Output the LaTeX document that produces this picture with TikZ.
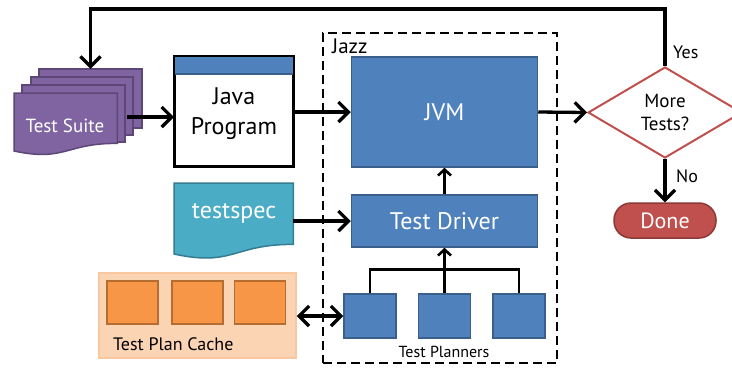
\documentclass[tikz,border=0pt]{standalone}
\usepackage{fontspec}
\setmainfont{PT Sans}
\usetikzlibrary{arrows.meta,shapes.geometric}
\definecolor{jblue}{HTML}{4F81BD}
\definecolor{jblueb}{HTML}{3A5F8B}
\definecolor{jpurple}{HTML}{8064A2}
\definecolor{jpurpleb}{HTML}{5C4776}
\definecolor{jteal}{HTML}{4BACC6}
\definecolor{jtealb}{HTML}{357D91}
\definecolor{jred}{HTML}{C0504D}
\definecolor{jredb}{HTML}{8C3836}
\definecolor{jorange}{HTML}{F79646}
\definecolor{jorangeb}{HTML}{B66D31}
\definecolor{jpeach}{HTML}{FBD4B4}
\definecolor{jpeachb}{HTML}{F9C8A0}
\tikzset{
  bluebox/.style={draw=jblueb, fill=jblue, line width=1.5pt, text=white, inner sep=0pt, font=\fontsize{24}{28}\selectfont},
  planbox/.style={bluebox, minimum width=52pt, minimum height=44pt},
  cachesq/.style={draw=jorangeb, fill=jorange, line width=1.5pt, minimum width=51pt, minimum height=43pt, inner sep=0pt},
  bigarrow/.style={line width=3.3pt, -{Straight Barb[length=10pt,width=20pt]}},
  dblarrow/.style={line width=3.3pt, {Straight Barb[length=10pt,width=20pt]}-{Straight Barb[length=10pt,width=20pt]}},
  smallarrow/.style={line width=2.6pt, -{Straight Barb[length=6pt,width=13pt]}},
  treeline/.style={line width=2.6pt},
  ghost/.style={inner sep=0pt, draw=none},
  lbl/.style={inner sep=0pt, font=\fontsize{18}{22}\selectfont},
}
\begin{document}
\begin{tikzpicture}[x=1pt,y=-1pt]
\useasboundingbox (0,0) rectangle (732,368);
\fill[white] (0,0) rectangle (732,368);

% Jazz dashed container
\node[ghost, draw=black, line width=2.5pt, dash pattern=on 9pt off 5pt, minimum width=234pt, minimum height=330pt] (jazz) at (440,198) {};
\node[lbl, anchor=west, font=\fontsize{21}{24}\selectfont] (jazzlbl) at (332,46) {Jazz};

% Test Suite (stack of documents)
\node[ghost, minimum width=103pt, minimum height=59pt] (tsb3) at (90.5,98.5) {};
\node[ghost, minimum width=102pt, minimum height=58pt] (tsb2) at (82,106) {};
\node[ghost, minimum width=103pt, minimum height=57pt] (tsb1) at (73.5,113.5) {};
\node[ghost, minimum width=103pt, minimum height=50pt, anchor=north west] (ts) at (14,93) {};
\foreach \p in {tsb3,tsb2,tsb1}{
  \draw[jpurpleb, fill=jpurple, line width=1.5pt] (\p.north west) rectangle (\p.south east);
}
\draw[jpurpleb, fill=jpurple, line width=1.5pt]
  (ts.north west) -- (ts.north east) -- (ts.south east)
  .. controls (65.5,143) and (65.5,162) .. (14,151) -- cycle;
\node[text=white, inner sep=0pt, font=\fontsize{19}{22}\selectfont] (tstext) at (65,126) {Test Suite};

% Java Program
\node[ghost, draw=black, fill=white, line width=2pt, minimum width=118pt, minimum height=109pt] (java) at (234,111.5) {};
\draw[jblueb, fill=jblue, line width=1.2pt] (java.north west) rectangle ([yshift=-18pt]java.north east);
\draw[black, line width=2pt] (java.north west) rectangle (java.south east);
\node[inner sep=0pt, align=center, font=\fontsize{24}{30}\selectfont] (javatext) at (234,114) {Java\\Program};

% testspec document
\node[ghost, minimum width=119pt, minimum height=61pt, anchor=north west] (tsp) at (174,183) {};
\draw[jtealb, fill=jteal, line width=1.5pt]
  (tsp.north west) -- (tsp.north east) -- (tsp.south east)
  .. controls (233.5,244) and (233.5,267) .. (174,254) -- cycle;
\node[text=white, inner sep=0pt, font=\fontsize{24}{28}\selectfont] (tsptext) at (234,213) {testspec};

% Test Plan Cache
\node[ghost, draw=jpeachb, fill=jpeach, line width=1.5pt, minimum width=197pt, minimum height=85pt] (cache) at (197.5,315.5) {};
\node[cachesq] (c1) at (132.5,302.5) {};
\node[cachesq] (c2) at (197.5,302.5) {};
\node[cachesq] (c3) at (260,302.5) {};
\node[lbl, anchor=west] (cachelbl) at (113,344) {Test Plan Cache};

% JVM and Test Driver
\node[bluebox, minimum width=186pt, minimum height=110pt] (jvm) at (444.5,112) {JVM};
\node[bluebox, minimum width=186pt, minimum height=52pt] (td) at (444.5,221) {Test Driver};

% Test planners
\node[planbox] (p1) at (370,316) {};
\node[planbox] (p2) at (444.5,316) {};
\node[planbox] (p3) at (519,316) {};
\node[lbl, font=\fontsize{16}{19}\selectfont] (planlbl) at (444,352) {Test Planners};

% Decision and Done
\node[diamond, draw=jred, fill=white, line width=2pt, minimum width=154pt, minimum height=91pt, aspect=1.69, inner sep=0pt, align=center, font=\fontsize{19}{23}\selectfont] (dia) at (665,112.5) {More\\Tests?};
\node[draw=jredb, fill=jred, line width=1.5pt, rounded corners=17pt, minimum width=102pt, minimum height=35pt, inner sep=0pt, text=white, font=\fontsize{22}{26}\selectfont] (done) at (665,220.5) {Done};
\node[lbl, anchor=west] (yes) at (673,52) {Yes};
\node[lbl, anchor=west] (no) at (676,176) {No};

% Connectors
\coordinate (tsout) at (127,117);
\draw[bigarrow] (tsout) -- (java.west |- tsout);
\draw[bigarrow] (java.east |- jvm.west) -- (jvm.west);
\draw[bigarrow] (tsp.east |- td.west) -- (td.west);
\draw[bigarrow] (jvm.east) -- (dia.west);
\draw[bigarrow] (dia.south) -- (done.north);
\draw[bigarrow] (dia.north) -- ++(0,-57) -| (tsb3.north);
\draw[dblarrow] (cache.east |- p1.west) -- (p1.west);
\draw[smallarrow] (td.north) -- (jvm.south);
\draw[treeline] (p1.north) -- ++(0,-24) -| (p3.north);
\draw[smallarrow] (p2.north) -- (td.south);
\end{tikzpicture}
\end{document}
